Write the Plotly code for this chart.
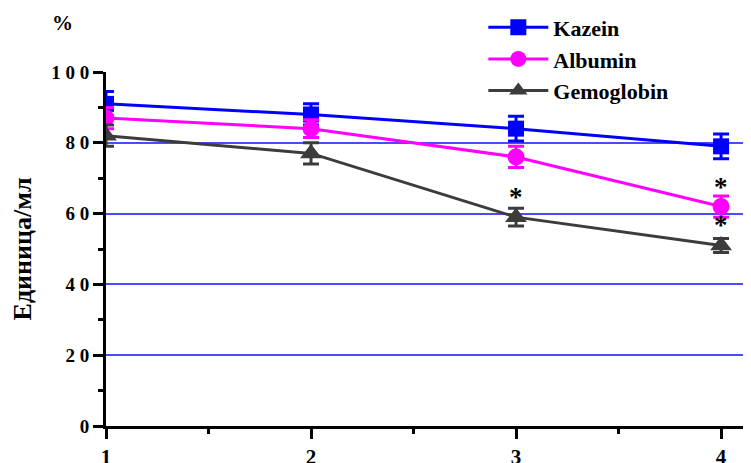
import plotly.graph_objects as go

x_vals = [1, 2, 3, 4]
kazein = [91, 88, 84, 79]
kazein_err = [3.5, 3, 3.5, 3.5]
albumin = [87, 84, 76, 62]
albumin_err = [3, 2.5, 3, 3]
gemoglobin = [82, 77, 59, 51]
gemoglobin_err = [3, 3, 2.5, 2]
y_ticks = [0, 20, 40, 60, 80, 100]
y_tick_text = ["0", "2 0", "4 0", "6 0", "8 0", "1 0 0"]
x_ticks = [1, 2, 3, 4]
# significance markers: (series, index)
stars = [(gemoglobin, 2), (albumin, 3), (gemoglobin, 3)]

FONT = "Liberation Serif"

fig = go.Figure()
series = [
    ("Kazein", kazein, kazein_err, "#0000ff", "square", 16),
    ("Albumin", albumin, albumin_err, "#ff00ff", "circle", 17),
    ("Gemoglobin", gemoglobin, gemoglobin_err, "#3c3c3c", "triangle-up", 19),
]
for name, ys, err, col, sym, sz in series:
    fig.add_trace(go.Scatter(
        x=x_vals, y=ys, name=name, mode="lines+markers",
        line=dict(color=col, width=3),
        marker=dict(symbol=sym, size=sz, color=col),
        error_y=dict(type="data", array=err, color=col, thickness=3, width=8),
        cliponaxis=True,
    ))

for ys, i in stars:
    fig.add_annotation(x=x_vals[i], y=ys[i], text="<b>*</b>", showarrow=False,
                       yshift=20, font=dict(family=FONT, size=27, color="black"))

fig.add_annotation(xref="paper", yref="paper", x=-0.087, y=1.177, text="<b>%</b>",
                   showarrow=False, font=dict(family=FONT, size=21, color="black"))

fig.update_layout(
    width=751, height=463,
    margin=dict(l=98, r=8, t=64, b=45, autoexpand=False),
    plot_bgcolor="white", paper_bgcolor="white",
    showlegend=True,
    legend=dict(x=0.585, y=1.185, xanchor="left", yanchor="top",
                font=dict(family=FONT, size=22, color="black", weight="bold"),
                bgcolor="rgba(0,0,0,0)", itemwidth=60, tracegroupgap=0),
    font=dict(family=FONT, color="black"),
)
fig.update_xaxes(
    range=[1, 4.146], tickvals=x_ticks, ticktext=[str(v) for v in x_ticks],
    showgrid=False, zeroline=False, showline=True, linecolor="black", linewidth=3,
    ticks="outside", ticklen=10, tickwidth=2.5, tickcolor="black",
    tickfont=dict(family=FONT, size=21, color="black", weight="bold"),
    minor=dict(dtick=0.5, tick0=1, ticks="outside", ticklen=5, tickwidth=2.5, tickcolor="black"),
    automargin=False,
)
fig.update_yaxes(
    range=[0, 100], tickvals=y_ticks, ticktext=y_tick_text,
    showgrid=True, gridcolor="#4a4aff", gridwidth=1.5, zeroline=False,
    showline=True, linecolor="black", linewidth=3,
    ticks="outside", ticklen=10, tickwidth=2.5, tickcolor="black",
    tickfont=dict(family=FONT, size=19, color="black", weight="bold"),
    title=dict(text="<b>Единица/мл</b>", font=dict(family=FONT, size=26, color="black"), standoff=20),
    minor=dict(dtick=10, tick0=0, ticks="outside", ticklen=5, tickwidth=2.5, tickcolor="black"),
    automargin=False,
)
fig.write_html("out.html")
